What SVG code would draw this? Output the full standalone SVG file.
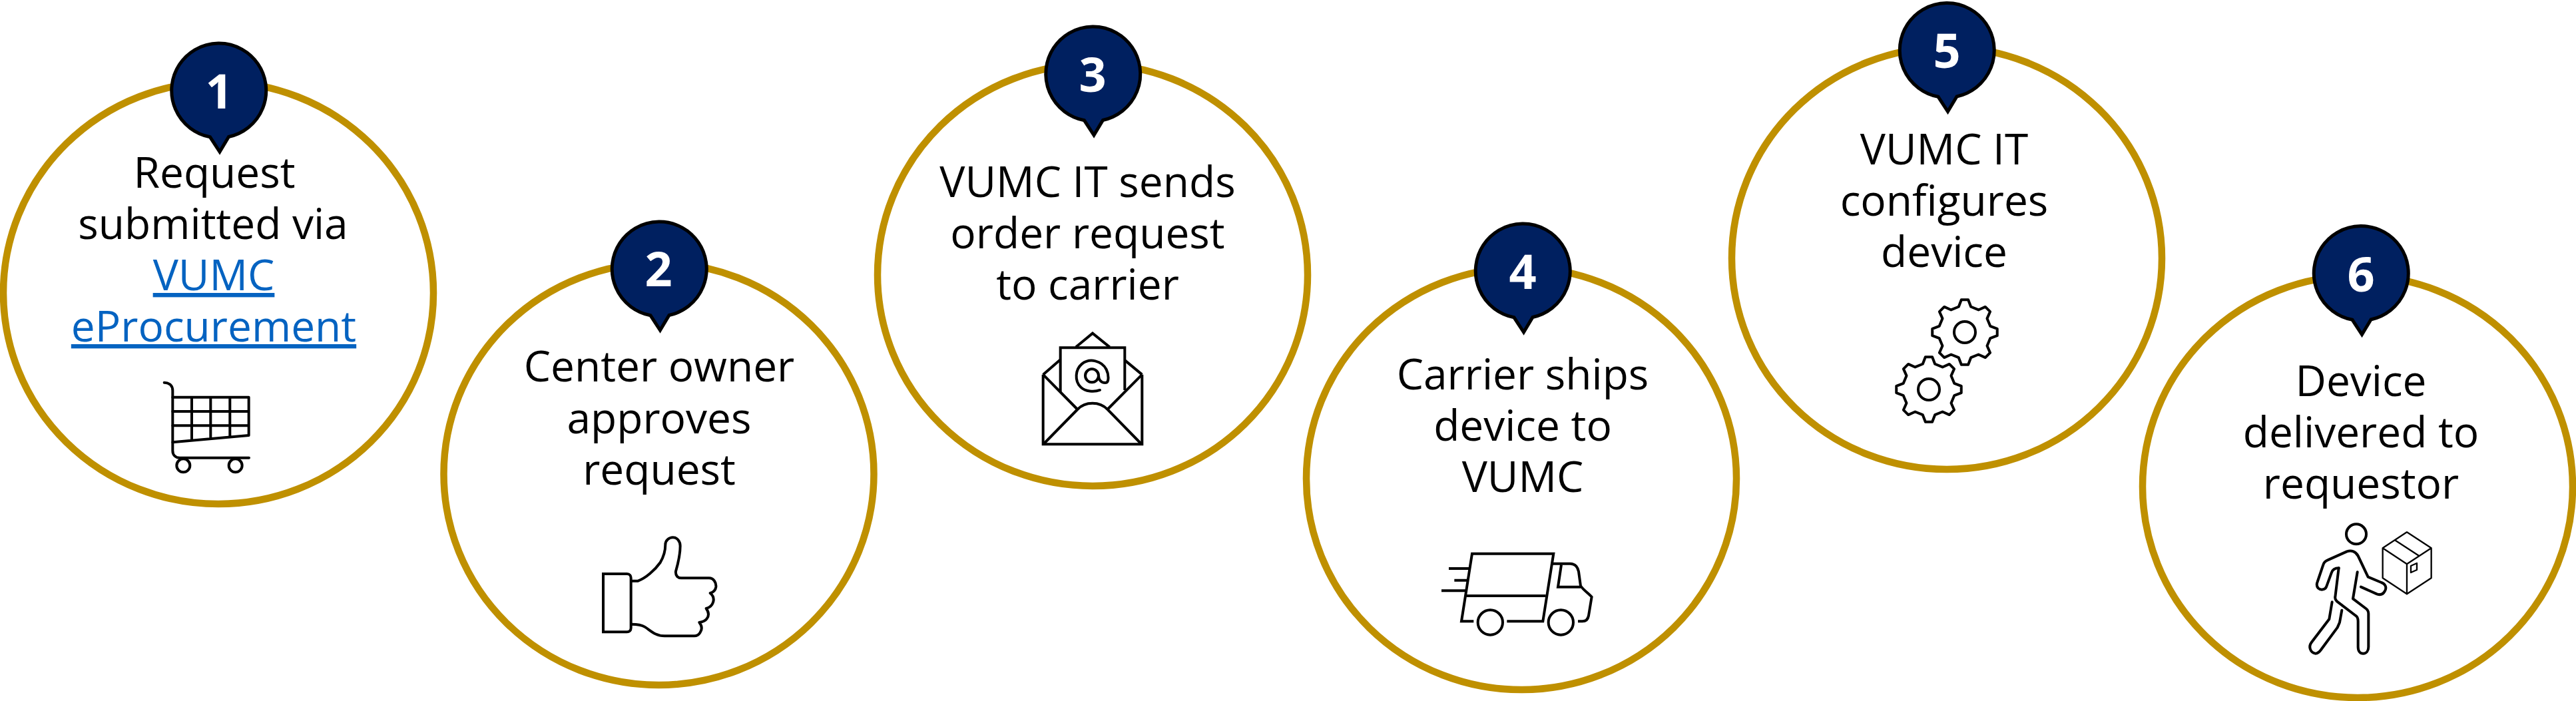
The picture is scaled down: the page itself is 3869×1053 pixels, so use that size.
<svg xmlns="http://www.w3.org/2000/svg" xmlns:xlink="http://www.w3.org/1999/xlink" width="3869" height="1053" viewBox="0 0 3869 1053">
<style>
.ring{fill:#fff;stroke:#BF9000;stroke-width:10.5}
.pin{fill:#002060;stroke:#000;stroke-width:5}
.num{font:700 72px "Open Sans",sans-serif;fill:#fff;text-anchor:middle}
.t{font:400 64px "Open Sans",sans-serif;fill:#000;text-anchor:middle}
.link{fill:#0563C1;text-decoration:underline}
.ic{fill:none;stroke:#000;stroke-width:12;stroke-linejoin:round;stroke-linecap:round}
.mi{stroke-linejoin:miter;stroke-linecap:butt}
</style>
<defs>
<path id="pinshape" class="pin" d="M-13,69.8A71,71 0 1 1 15,69.5L1.5,92Z"/>
<path id="gear" d="M-15.4,-146.2L15.4,-146.2L27.5,-114.7L61.7,-100.6L92.5,-114.2L114.2,-92.5L100.6,-61.7L114.7,-27.5L146.2,-15.4L146.2,15.4L114.7,27.5L100.6,61.7L114.2,92.5L92.5,114.2L61.7,100.6L27.5,114.7L15.4,146.2L-15.4,146.2L-27.5,114.7L-61.7,100.6L-92.5,114.2L-114.2,92.5L-100.6,61.7L-114.7,27.5L-146.2,15.4L-146.2,-15.4L-114.7,-27.5L-100.6,-61.7L-114.2,-92.5L-92.5,-114.2L-61.7,-100.6L-27.5,-114.7ZM48,0A48,48 0 1 1 -48,0A48,48 0 1 1 48,0Z"/>
</defs>
<g id="connectors"></g>

<g id="node1">
<ellipse class="ring" cx="328" cy="440" rx="323" ry="317"/>
<use href="#pinshape" x="328.5" y="136"/>
<text class="num" x="329" y="163">1</text>
<text class="t" x="322" y="282">Request</text>
<text class="t" x="320" y="359">submitted via</text>
<text class="t link" x="321" y="436">VUMC</text>
<text class="t link" x="321" y="513">eProcurement</text>
<g class="ic" transform="translate(200,540) scale(.3333)">
<path d="M140,104C165,104 178,120 178,140V410C178,430 190,443 210,443H522"/>
<path d="M178,170H521V342L178,373M178,234H521M178,298H521M264,170V360M349,170V353M436,170V345"/>
<circle cx="226" cy="478" r="30"/><circle cx="461" cy="478" r="30"/>
</g>
</g>

<g id="node2">
<ellipse class="ring" cx="989.5" cy="712" rx="323" ry="317"/>
<use href="#pinshape" x="990" y="404"/>
<text class="num" x="989" y="430">2</text>
<text class="t" x="990" y="573">Center owner</text>
<text class="t" x="990" y="651">approves</text>
<text class="t" x="990" y="728">request</text>
<g class="ic" transform="translate(870,770) scale(.3333)">
<path class="mi" d="M108,276H215C228,276 233,285 233,295V520C233,532 225,538 215,538H108Z"/>
<path d="M235,308H265C300,295 340,260 365,225C380,200 388,170 388,145C388,125 405,112 422,112C442,112 455,130 455,150C455,190 445,230 435,265C433,285 445,295 460,295H585C605,295 618,315 616,335C614,350 605,358 590,363C605,375 608,390 603,405C598,420 590,428 572,432C585,450 585,465 575,478C568,488 558,492 541,495C553,510 555,525 545,540C538,552 530,556 518,556H385C340,556 320,530 295,515C280,505 265,503 235,503"/>
</g>
</g>

<g id="node3">
<ellipse class="ring" cx="1641" cy="413" rx="323" ry="317"/>
<use href="#pinshape" x="1641.5" y="111"/>
<text class="num" x="1641" y="138">3</text>
<text class="t" x="1633.5" y="296">VUMC IT sends</text>
<text class="t" x="1633.5" y="373">order request</text>
<text class="t" x="1633.5" y="450">to carrier</text>
<g class="ic mi" transform="translate(1530,480) scale(.3333)">
<path d="M110,248V562H556V248"/>
<path d="M110,248L186,182M258,124L333,62L410,124M480,185L556,248"/>
<path d="M188,325V127H478V318"/>
<path d="M110,248L265,405M556,248L400,405"/>
<path d="M115,558L265,405C300,368 365,368 400,405L550,558"/>
<path stroke-linecap="round" d="M366,318C340,328 300,325 280,305C250,275 255,225 285,200C320,172 375,185 395,225C405,245 410,285 390,285C370,285 360,270 360,253A30,30 0 1 0 300,253A30,30 0 1 0 360,253"/>
</g>
</g>

<g id="node4">
<ellipse class="ring" cx="2285" cy="719" rx="323" ry="317"/>
<use href="#pinshape" x="2287" y="407"/>
<text class="num" x="2287" y="434">4</text>
<text class="t" x="2287" y="585">Carrier ships</text>
<text class="t" x="2287" y="662">device to</text>
<text class="t" x="2287" y="739">VUMC</text>
<g class="ic mi" transform="translate(2140,800) scale(.3333)">
<path d="M220,400H165L213,95H580L532,400H370"/>
<path d="M187,285H545M108,162H198M133,215H190M75,262H183"/>
<path d="M575,140H655C680,140 690,160 693,175L702,240C715,260 740,275 752,290L738,375C735,390 725,400 710,400H690"/>
<path d="M615,145L600,245H702"/>
<circle cx="295" cy="405" r="56"/><circle cx="613" cy="405" r="56"/>
</g>
</g>

<g id="node5">
<ellipse class="ring" cx="2924" cy="388" rx="323" ry="317"/>
<use href="#pinshape" x="2924" y="75.5"/>
<text class="num" x="2924" y="102">5</text>
<text class="t" x="2920" y="247">VUMC IT</text>
<text class="t" x="2920" y="324">configures</text>
<text class="t" x="2920" y="401">device</text>
<g class="ic" transform="translate(2820,430) scale(.3333)">
<use href="#gear" x="393" y="207"/>
<use href="#gear" x="231" y="465"/>
</g>
</g>

<g id="node6">
<ellipse class="ring" cx="3541" cy="731" rx="323" ry="317"/>
<use href="#pinshape" x="3546" y="410.5"/>
<text class="num" x="3546" y="438">6</text>
<text class="t" x="3546" y="595">Device</text>
<text class="t" x="3546" y="672">delivered to</text>
<text class="t" x="3546" y="749">requestor</text>
<g class="ic" transform="translate(3420,770) scale(.3333)">
<circle cx="357" cy="97" r="45"/>
<path d="M278,250L262,380C260,392 265,395 270,400L355,465C365,472 365,480 365,490V605C365,625 375,635 388,635C403,635 412,622 412,605V455C412,445 408,438 400,432L342,388L362,268"/>
<path d="M278,250C255,250 248,262 245,272L222,335C215,350 195,350 185,340C178,332 178,322 182,312L208,235C212,222 218,218 228,214L315,175C335,168 355,175 365,195L410,290L470,315C490,322 495,340 485,355C478,368 465,372 450,367L378,335"/>
<path d="M248,403L235,480L155,585C140,605 150,630 172,635C185,635 190,628 198,618L272,518L282,495L292,440"/>
<path stroke-width="7" d="M476,160L585,88L695,160V295L585,367L476,295ZM476,160L585,232L695,160M585,232V367M533,125L640,195M603,240L630,228V258L603,270Z"/>
</g>
</g>
</svg>
